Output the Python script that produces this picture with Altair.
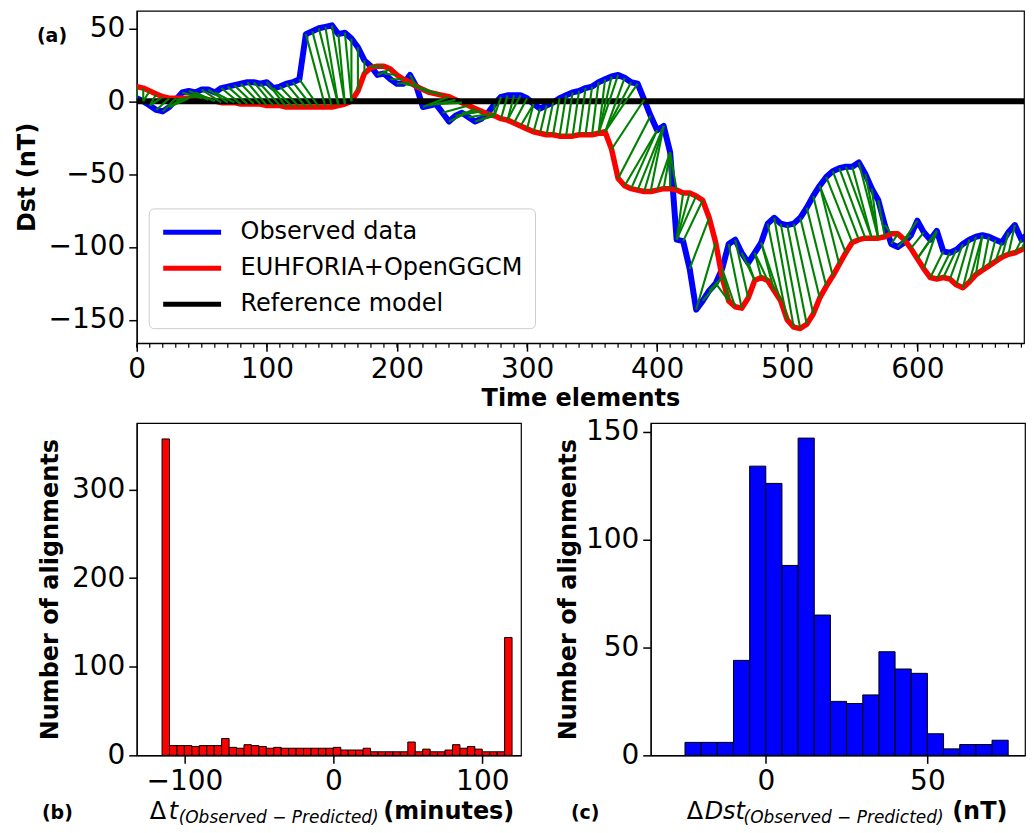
import altair as alt
import pandas as pd

# ---------------- data ----------------
t_grid = list(range(0, 691, 5))  # time elements sampled every 5

obs_dst = [
    2, 0, -3, -6, -7, -4, 1, 6, 7, 6,
    8, 8, 6, 9, 10, 11, 12, 13, 13, 12,
    13, 9, 10, 12, 13, 15, 46, 48, 50, 51,
    52, 46, 47, 43, 37, 28, 24, 18, 19, 15,
    12, 12, 18, 10, -4, -3, -2, -8, -14, -10,
    -8, -11, -14, -12, -8, -2, 3, 4, 4, 4,
    2, -2, -5, -3, -1, 2, 4, 6, 7, 9,
    10, 13, 15, 17, 18, 16, 13, 12, 1, -10,
    -20, -17, -35, -95, -96, -115, -143, -137, -130, -125,
    -115, -98, -95, -104, -111, -104, -97, -84, -80, -84,
    -85, -84, -80, -73, -65, -58, -52, -48, -46, -45,
    -45, -42, -50, -60, -68, -85, -98, -100, -97, -92,
    -82, -90, -95, -89, -103, -104, -102, -98, -95, -93,
    -92, -93, -95, -97, -90, -85, -95, -91, -88,
]

pred_dst = [
    10, 9, 7, 5, 3, 2, 2, 2, 2, 3,
    2, 1, 0, -1, -1, -1, -2, -2, -2, -2,
    -3, -3, -3, -4, -4, -4, -4, -4, -4, -4,
    -4, -3, -2, 0, 7, 19, 23, 24, 24, 22,
    18, 15, 13, 10, 8, 6, 5, 4, 3, 1,
    -1, -3, -5, -7, -9, -10, -12, -13, -15, -17,
    -19, -21, -22, -23, -23, -24, -24, -24, -23, -23,
    -23, -22, -21, -33, -53, -58, -60, -61, -62, -62,
    -61, -60, -60, -61, -63, -63, -65, -68, -80, -97,
    -121, -137, -141, -142, -135, -123, -121, -123, -130, -137,
    -150, -155, -156, -153, -146, -135, -127, -120, -112, -104,
    -97, -95, -94, -94, -94, -93, -91, -91, -95, -101,
    -108, -115, -121, -122, -121, -122, -126, -128, -124, -119,
    -116, -113, -110, -107, -105, -104, -102, -100, -99,
]

# alignment: predicted time minus observed time for each observed sample
align_shift = [
    0, 0, 5, 10, 10, 10, 15, 15, 15, 15,
    15, 15, 15, 15, 15, 15, 15, 15, 15, 15,
    15, 15, 15, 15, 15, 15, 15, 15, 15, 10,
    10, 5, 5, 0, 0, 0, 0, 10, 10, 10,
    10, 10, 5, 5, 20, 20, 20, 20, 20, 20,
    15, 15, 15, 10, 5, 0, -5, -5, -5, -10,
    -10, -10, -5, -5, -5, -5, -5, -5, -5, -5,
    -5, -5, -5, -10, -15, -15, -20, -25, -25, -25,
    -25, -20, -10, 5, 15, 15, 15, 15, 10, 10,
    5, 10, 10, 10, 5, 5, 10, 15, 15, 15,
    15, 15, 15, 15, 15, 15, 20, 20, 20, 20,
    15, 15, 10, 5, 5, 5, 5, 5, 0, -5,
    -10, -10, -10, -15, -10, -10, -10, -10, -10, -10,
    -10, -5, -5, -5, -5, -5, -5, -5, -5,
]

series_names = ["Observed data", "EUHFORIA+OpenGGCM", "Reference model"]
series_colors = ["#0000ff", "#ff0000", "#000000"]
ref_t = [0, 690]
ref_dst = [0, 0]

x_top_ticks = [0, 100, 200, 300, 400, 500, 600]
x_top_minor = list(range(0, 681, 10))
y_top_ticks = [-150, -100, -50, 0, 50]

# histogram (b): time shifts (minutes), 5-minute bins
dt_starts = list(range(-115, 116, 5))
dt_counts = [357, 11, 11, 11, 10, 11, 11, 11, 19, 9,
             8, 12, 11, 10, 8, 9, 8, 8, 8, 8,
             8, 8, 8, 9, 6, 6, 6, 8, 4, 4,
             4, 4, 4, 15, 4, 7, 4, 4, 6, 12,
             8, 10, 7, 4, 4, 4, 133]
dt_ticks_x = [-100, 0, 100]
dt_ticks_y = [0, 100, 200, 300]

# histogram (c): Dst differences (nT), 5 nT bins
dd_starts = list(range(-25, 71, 5))
dd_counts = [6, 6, 6, 44, 134, 126, 88, 147, 65, 25,
             24, 28, 48, 40, 38, 10, 3, 5, 5, 7]
dd_ticks_x = [0, 50]
dd_ticks_y = [0, 50, 100, 150]

# ---------------- tables ----------------
FONT = "DejaVu Sans"
lines_df = pd.DataFrame(
    {"t": t_grid * 2,
     "v": obs_dst + pred_dst,
     "series": [series_names[0]] * len(t_grid) + [series_names[1]] * len(t_grid)}
)
ref_df = pd.DataFrame({"t": ref_t, "v": ref_dst, "series": [series_names[2]] * 2})

pred_of_obs = [t + s for t, s in zip(t_grid, align_shift)]
pairs = set()
for i, tp in enumerate(pred_of_obs):
    pairs.add((i, t_grid.index(tp)))
for j, tp in enumerate(t_grid):
    cands = [i for i, p in enumerate(pred_of_obs) if p <= tp]
    pairs.add((max(cands) if cands else 0, j))
pairs = sorted(pairs)
green_df = pd.DataFrame(
    {"t": [t_grid[i] for i, j in pairs],
     "v": [obs_dst[i] for i, j in pairs],
     "t2": [t_grid[j] for i, j in pairs],
     "v2": [pred_dst[j] for i, j in pairs]}
)
minor_df = pd.DataFrame({"t": x_top_minor})
one = pd.DataFrame({"k": [0]})

dt_df = pd.DataFrame({"start": dt_starts, "end": [s + 5 for s in dt_starts],
                      "count": dt_counts, "base": [0] * len(dt_starts)})
dd_df = pd.DataFrame({"start": dd_starts, "end": [s + 5 for s in dd_starts],
                      "count": dd_counts, "base": [0] * len(dd_starts)})

# ---------------- top panel ----------------
W_TOP, H_TOP = 889, 333
x_top = alt.X("t:Q",
              scale=alt.Scale(domain=[0, 682], nice=False, zero=False),
              axis=alt.Axis(values=x_top_ticks, title="Time elements", format="d",
                            titlePadding=3))
y_top = alt.Y("v:Q",
              scale=alt.Scale(domain=[-166, 62], nice=False, zero=False),
              axis=alt.Axis(values=y_top_ticks, title="Dst (nT)", format="d",
                            titlePadding=9))
color = alt.Color(
    "series:N",
    scale=alt.Scale(domain=series_names, range=series_colors),
    legend=alt.Legend(orient="none", legendX=12, legendY=198, title=None,
                      symbolType="stroke", symbolSize=3364, symbolStrokeWidth=5,
                      labelFontSize=24, labelFont=FONT, labelColor="black",
                      labelLimit=500, clipHeight=24,
                      padding=12, rowPadding=12, labelOffset=17,
                      fillColor="white", strokeColor="#cccccc", cornerRadius=5),
)

blue = alt.Chart(lines_df).transform_filter(alt.datum.series == series_names[0]).mark_line(
    strokeWidth=6, strokeJoin="round", clip=True).encode(x=x_top, y=y_top, color=color)
red = alt.Chart(lines_df).transform_filter(alt.datum.series == series_names[1]).mark_line(
    strokeWidth=5.5, strokeJoin="round", clip=True).encode(x=x_top, y=y_top, color=color)
black = alt.Chart(ref_df).mark_line(strokeWidth=6, clip=True).encode(x=x_top, y=y_top, color=color)
green = alt.Chart(green_df).mark_rule(color="#008000", strokeWidth=2.1, clip=True).encode(
    x=x_top, y=y_top, x2="t2:Q", y2="v2:Q")
minor = alt.Chart(minor_df).mark_rule(color="black", strokeWidth=1.2).encode(
    x=x_top, y=alt.value(H_TOP), y2=alt.value(H_TOP + 4.5))
label_a = alt.Chart(one).mark_text(text="(a)", font=FONT, fontSize=19, fontWeight="bold",
                                   align="left", baseline="middle").encode(
    x=alt.value(-100), y=alt.value(25))
pad_top = alt.Chart(one).mark_point(opacity=0, size=1).encode(x=alt.value(-124), y=alt.value(0))

top = alt.layer(blue, red, black, green, minor, label_a, pad_top).properties(
    width=W_TOP, height=H_TOP)

# ---------------- bottom panels ----------------
W_L, W_R, H_B = 385, 375, 333
TY = 397


def title_text(txt, x, y, size, weight="normal", style="normal"):
    return alt.Chart(one).mark_text(text=txt, font=FONT, fontSize=size, fontWeight=weight,
                                    fontStyle=style, align="left", baseline="alphabetic",
                                    color="black").encode(x=alt.value(x), y=alt.value(y))


bars_l = alt.Chart(dt_df).mark_bar(color="#ff0000", stroke="black", strokeWidth=1).encode(
    x=alt.X("start:Q", scale=alt.Scale(domain=[-132, 126], nice=False, zero=False),
            axis=alt.Axis(values=dt_ticks_x, title=None, format="d")),
    x2="end:Q",
    y=alt.Y("count:Q", scale=alt.Scale(domain=[0, 375], nice=False),
            axis=alt.Axis(values=dt_ticks_y, title="Number of alignments", format="d",
                          titlePadding=9)),
    y2="base:Q",
)
left = alt.layer(
    bars_l,
    title_text("(b)", -95, TY, 19, "bold"),
    title_text("\u0394", 13, TY, 24),
    title_text("t", 32, TY, 24, style="italic"),
    title_text("(Observed \u2212 Predicted)", 42, TY + 4, 17, style="italic"),
    title_text("(minutes)", 247, TY, 24, "bold"),
    alt.Chart(one).mark_point(opacity=0, size=1).encode(x=alt.value(-124), y=alt.value(-8)),
).properties(width=W_L, height=H_B)

bars_r = alt.Chart(dd_df).mark_bar(color="#0000ff", stroke="black", strokeWidth=1).encode(
    x=alt.X("start:Q", scale=alt.Scale(domain=[-35.6, 80.2], nice=False, zero=False),
            axis=alt.Axis(values=dd_ticks_x, title=None, format="d")),
    x2="end:Q",
    y=alt.Y("count:Q", scale=alt.Scale(domain=[0, 154], nice=False),
            axis=alt.Axis(values=dd_ticks_y, title="Number of alignments", format="d",
                          titlePadding=5)),
    y2="base:Q",
)
right = alt.layer(
    bars_r,
    title_text("(c)", -80, TY, 19, "bold"),
    title_text("\u0394", 36, TY, 24),
    title_text("Dst", 54, TY, 24, style="italic"),
    title_text("(Observed \u2212 Predicted)", 93, TY + 4, 17, style="italic"),
    title_text("(nT)", 302, TY, 24, "bold"),
    alt.Chart(one).mark_point(opacity=0, size=1).encode(x=alt.value(-96), y=alt.value(-8)),
).properties(width=W_R, height=H_B)

bottom = alt.hconcat(left, right, spacing=31)

chart = alt.vconcat(top, bottom, spacing=2).properties(
    padding={"left": 3, "top": 0, "right": 0, "bottom": 0}
).configure(font=FONT).configure_axis(
    labelFont=FONT, labelFontSize=28, labelColor="black", labelPadding=4,
    labelFlush=False, titleFont=FONT, titleFontSize=24, titleFontWeight="bold",
    titleColor="black", tickColor="black", tickSize=8, tickWidth=1.5,
    domainColor="black", domainWidth=1.2, grid=False,
).configure_view(stroke="black", strokeWidth=1.2)

chart.save("out.html", embed_options={"renderer": "svg", "actions": False})
